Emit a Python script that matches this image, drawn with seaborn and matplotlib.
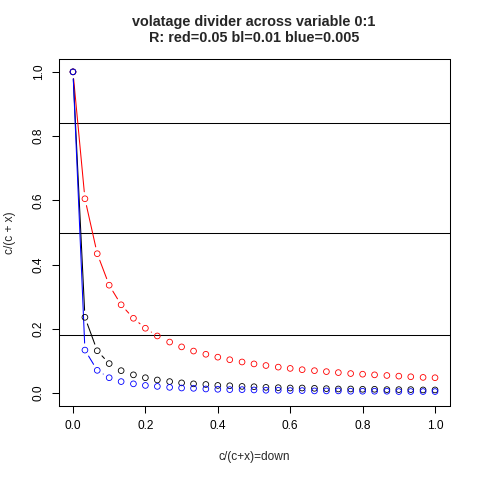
import numpy as np
import matplotlib
matplotlib.use("Agg")
import matplotlib.pyplot as plt
import seaborn as sns

sns.set_style("white")
plt.rcParams['font.family'] = ['Liberation Sans', 'DejaVu Sans']

# x = down fraction, y = c/(c+x) for three values of c
x_vals = [0.0, 0.033, 0.067, 0.1, 0.133, 0.167, 0.2, 0.233, 0.267, 0.3,
          0.333, 0.367, 0.4, 0.433, 0.467, 0.5, 0.533, 0.567, 0.6, 0.633,
          0.667, 0.7, 0.733, 0.767, 0.8, 0.833, 0.867, 0.9, 0.933, 0.967, 1.0]
red_vals = [1.0, 0.605, 0.434, 0.336, 0.275, 0.233, 0.202, 0.178, 0.159, 0.144,
            0.131, 0.121, 0.112, 0.104, 0.097, 0.091, 0.086, 0.081, 0.077, 0.073,
            0.07, 0.067, 0.064, 0.061, 0.059, 0.057, 0.055, 0.053, 0.051, 0.049, 0.048]
black_vals = [1.0, 0.236, 0.132, 0.092, 0.07, 0.057, 0.048, 0.041, 0.036, 0.032,
              0.029, 0.027, 0.024, 0.023, 0.021, 0.02, 0.018, 0.017, 0.016, 0.016,
              0.015, 0.014, 0.013, 0.013, 0.012, 0.012, 0.011, 0.011, 0.011, 0.01, 0.01]
blue_vals = [1.0, 0.134, 0.071, 0.048, 0.036, 0.029, 0.024, 0.021, 0.018, 0.016,
             0.015, 0.013, 0.012, 0.011, 0.011, 0.01, 0.009, 0.009, 0.008, 0.008,
             0.007, 0.007, 0.007, 0.006, 0.006, 0.006, 0.006, 0.005, 0.005, 0.005, 0.005]
hlines = [0.84, 0.5, 0.18]

series = [("red", red_vals, "#FF0000"), ("bl", black_vals, "#000000"), ("blue", blue_vals, "#0000FF")]

fig = plt.figure(figsize=(4.8, 4.8), dpi=100)
ax = fig.add_axes([58.5 / 480, 74 / 480, 391 / 480, 347 / 480])
ax.set_xlim(-0.04, 1.04)
ax.set_ylim(-0.04, 1.04)

for h in hlines:
    ax.axhline(h, color="black", lw=0.75, zorder=1)

# R type="b": segments with a gap around each point
gap = 7.0
inv = ax.transData.inverted()
for name, yv, col in series:
    pts = ax.transData.transform(np.column_stack([x_vals, yv]))
    for p0, p1 in zip(pts[:-1], pts[1:]):
        d = p1 - p0
        L = np.hypot(*d)
        if L <= 2 * gap:
            continue
        u = d / L
        seg = inv.transform(np.array([p0 + u * gap, p1 - u * gap]))
        ax.plot(seg[:, 0], seg[:, 1], color=col, lw=0.75, zorder=2)
    sns.scatterplot(x=x_vals, y=yv, ax=ax, marker="o", s=17, facecolor="none",
                    edgecolor=col, linewidth=0.6, zorder=3)

ticks = [0.0, 0.2, 0.4, 0.6, 0.8, 1.0]
ax.set_xticks(ticks)
ax.set_yticks(ticks)
ax.set_xticklabels([f"{t:.1f}" for t in ticks])
ax.set_yticklabels([f"{t:.1f}" for t in ticks], rotation=90, va="center")
ax.tick_params(axis="both", direction="out", length=5, width=0.75, colors="black",
               labelsize=8.6, pad=5, bottom=True, left=True)
for s in ax.spines.values():
    s.set_color("black")
    s.set_linewidth(0.75)
    s.set_visible(True)
ax.grid(False)

fig.text(254 / 480, 1 - 21.7 / 480, "volatage divider across variable 0:1",
         ha="center", va="center", fontsize=10.4, fontweight="bold")
fig.text(254 / 480, 1 - 37.7 / 480, "R: red=0.05 bl=0.01 blue=0.005",
         ha="center", va="center", fontsize=10.4, fontweight="bold")
fig.text(254 / 480, 1 - 457 / 480, "c/(c+x)=down", ha="center", va="center", fontsize=8.6)
fig.text(10 / 480, 1 - 232.5 / 480, "c/(c + x)", ha="center", va="center",
         rotation=90, fontsize=8.6)

fig.savefig("out.png", dpi=100)
